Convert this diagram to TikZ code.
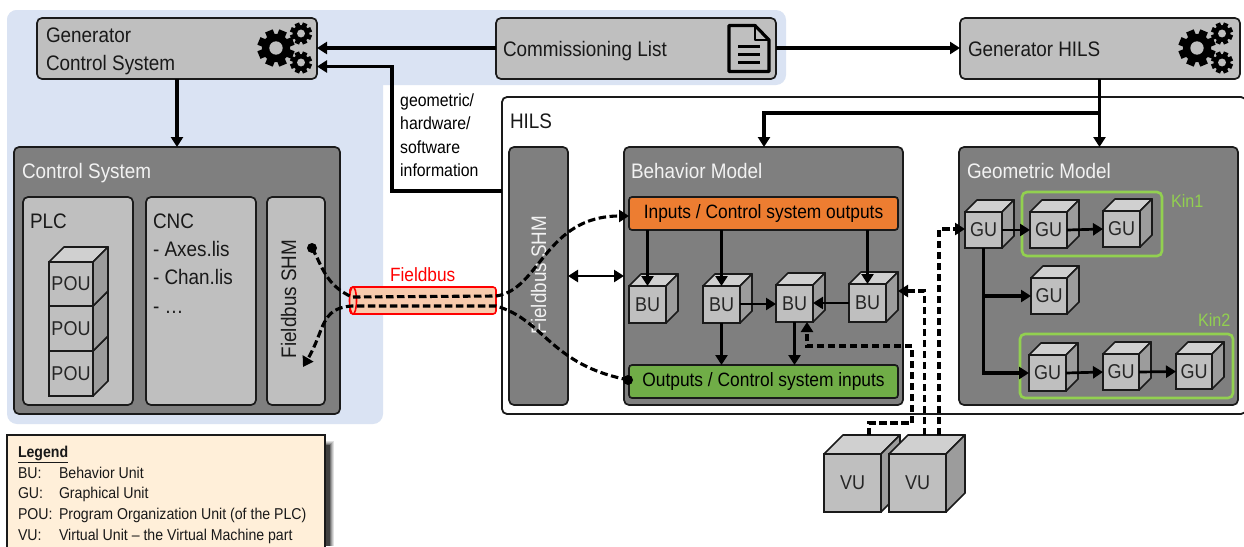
\documentclass[tikz,border=0pt]{standalone}
\usepackage{fontspec}
\setmainfont[FakeStretch=0.9]{Liberation Sans}
\usetikzlibrary{arrows.meta,calc,shapes.geometric}
\definecolor{bgblue}{HTML}{DAE3F3}
\definecolor{boxgrey}{HTML}{BFBFBF}
\definecolor{darkgrey}{HTML}{7F7F7F}
\definecolor{topgrey}{HTML}{D0D0D0}
\definecolor{sidegrey}{HTML}{9C9C9C}
\definecolor{outl}{HTML}{1A1A1A}
\definecolor{orangebox}{HTML}{ED7D31}
\definecolor{greenbox}{HTML}{70AD47}
\definecolor{kin}{HTML}{92D050}
\definecolor{legendfill}{HTML}{FFEFD9}
\definecolor{tube}{HTML}{F8CBAD}
\newcommand{\fs}[1]{\fontsize{#1}{#1}\selectfont}
\tikzset{
  box/.style={draw=outl,line width=1.7pt,rounded corners=5pt,inner sep=0pt,outer sep=0pt,anchor=north west},
  lightbox/.style={box,fill=boxgrey},
  darkbox/.style={box,fill=darkgrey},
  txt/.style={anchor=west,inner sep=0pt,outer sep=0pt,text=black!90,font=\fs{21},text height=14.5pt,text depth=0.5pt},
  whitetxt/.style={txt,text=white!95!black},
  arr/.style={draw=black,line width=3.1pt,-{Triangle[length=10pt,width=12pt]}},
  thinarr/.style={arr,line width=2.7pt},
  dasharr/.style={arr,dash pattern=on 7.5pt off 3.5pt},
  plainface/.style={draw=outl,line width=1.7pt,line join=round},
  cubefront/.style={draw=outl,line width=1.7pt,fill=boxgrey,inner sep=0pt,outer sep=0pt,anchor=north west,font=\fs{20},text=black!85},
  kinbox/.style={draw=kin,line width=2.6pt,rounded corners=5pt,inner sep=0pt,outer sep=0pt,anchor=north west},
  legtxt/.style={txt,font=\fs{15.7},text height=11pt,text depth=0pt},
}
% \cube{name}{x}{y}{w}{h}{depth}{label}
\newcommand{\cube}[7]{%
  \filldraw[plainface,fill=topgrey] (#2,#3) -- ++(#6,-#6) -- ++(#4,0) -- ++(-#6,#6) -- cycle;
  \filldraw[plainface,fill=sidegrey] (#2+#4,#3) -- ++(#6,-#6) -- ++(0,#5) -- ++(-#6,#6) -- cycle;
  \node[cubefront,minimum width=#4pt,minimum height=#5pt] (#1) at (#2,#3) {#7};
}
% \gear{cx}{cy}{R}{bg}
\newcommand{\gear}[4]{%
  \fill[black] (#1,#2) circle ({0.76*#3});
  \foreach \a in {0,45,...,315}{
    \fill[black,shift={(#1,#2)},rotate=\a+22.5] (-0.22*#3,0) rectangle (0.22*#3,#3);
  }
  \fill[#4] (#1,#2) circle ({0.36*#3});
}
\begin{document}
\begin{tikzpicture}[x=1pt,y=-1pt]
\useasboundingbox (0,0) rectangle (1244,546);
\clip (0,0) rectangle (1244,546);
\fill[white] (0,0) rectangle (1244,546);
% blue background
\fill[bgblue,rounded corners=10pt] (7,10) rectangle (786,85);
\fill[bgblue,rounded corners=10pt] (7,10) rectangle (383,424);
% top boxes
\node[lightbox,minimum width=280pt,minimum height=61pt] (gencs) at (37,18) {};
\node[lightbox,minimum width=280pt,minimum height=61pt] (commlist) at (496,18) {};
\node[lightbox,minimum width=280pt,minimum height=61pt] (genhils) at (960,18) {};
\node[txt] (tgen) at (46,35) {Generator};
\node[txt] (tcs) at (46,63.5) {Control System};
\node[txt] (tcomm) at (503,49) {Commissioning List};
\node[txt] (tghils) at (968,49) {Generator HILS};
\gear{276}{48}{18.5}{boxgrey}\gear{301}{33.5}{11}{boxgrey}\gear{301}{62.5}{11}{boxgrey}
\gear{1197}{48}{18.5}{boxgrey}\gear{1222}{33.5}{11}{boxgrey}\gear{1222}{62.5}{11}{boxgrey}
% document icon
\draw[line width=3.2pt,line join=round,fill=boxgrey] (729,25.5) -- (755,25.5) -- (769,40) -- (769,71.5) -- (729,71.5) -- cycle;
\draw[line width=2.6pt,line join=round] (755,25.5) -- (755,40) -- (769,40);
\draw[line width=3pt] (738,46) -- (760,46) (738,54) -- (760,54) (738,62) -- (760,62);
% control system
\node[darkbox,minimum width=326pt,minimum height=267pt] (cs) at (14,147) {};
\node[whitetxt] (tcontrol) at (22,171) {Control System};
\node[lightbox,minimum width=110pt,minimum height=208pt] (plc) at (23,197) {};
\node[lightbox,minimum width=110pt,minimum height=208pt] (cnc) at (146,197) {};
\node[lightbox,minimum width=58pt,minimum height=208pt] (shml) at (267,197) {};
\node[txt] (tplc) at (30,221) {PLC};
\node[txt] (tcnc) at (153,221) {CNC};
\node[txt] (taxes) at (153,249) {- Axes.lis};
\node[txt] (tchan) at (153,277) {- Chan.lis};
\node[txt] (tdots) at (153,306) {- \dots};
\node[txt,rotate=90,anchor=center] (tshml) at (289,299) {Fieldbus SHM};
\cube{pou3}{49}{351}{44}{45}{15}{POU}
\cube{pou2}{49}{306}{44}{45}{15}{POU}
\cube{pou1}{49}{262}{44}{44}{15}{POU}
% HILS
\node[box,fill=white,minimum width=744pt,minimum height=317pt,line width=1.8pt] (hils) at (502,97) {};
\node[txt] (thils) at (510,121) {HILS};
\node[darkbox,minimum width=59pt,minimum height=258pt] (shmm) at (509,147) {};
\node[whitetxt,rotate=90,anchor=center] (tshmm) at (539,275) {Fieldbus SHM};
\node[darkbox,minimum width=279pt,minimum height=258pt] (beh) at (624,147) {};
\node[whitetxt] (tbeh) at (631,171) {Behavior Model};
\node[darkbox,minimum width=279pt,minimum height=258pt] (geo) at (959,147) {};
\node[whitetxt] (tgeo) at (967,171) {Geometric Model};
\node[box,fill=orangebox,rounded corners=3pt,minimum width=269pt,minimum height=33pt,font=\fs{19.3},text height=13.5pt,text depth=4pt] (inp) at (629,197) {Inputs / Control system outputs};
\node[box,fill=greenbox,rounded corners=3pt,minimum width=269pt,minimum height=33pt,font=\fs{19.3},text height=13.5pt,text depth=4pt] (outp) at (629,365) {Outputs / Control system inputs};
\cube{bua}{629}{286}{37}{37}{12}{BU}
\cube{bub}{703}{286}{37}{37}{12}{BU}
\cube{buc}{776}{285}{37}{37}{12}{BU}
\cube{bud}{849}{284}{37}{38}{12}{BU}
% geometric model
\node[kinbox,minimum width=140pt,minimum height=64pt] (kina) at (1022,192) {};
\node[kinbox,minimum width=213pt,minimum height=64pt] (kinb) at (1020,334) {};
\node[txt,text=kin,font=\fs{18}] (tkina) at (1171,200) {Kin1};
\node[txt,text=kin,font=\fs{18}] (tkinb) at (1198,319) {Kin2};
\cube{gua}{965}{212}{37}{36}{12}{GU}
\cube{gub}{1030}{212}{37}{36}{12}{GU}
\cube{guc}{1103}{211}{37}{36}{12}{GU}
\cube{gud}{1031}{278}{36}{36}{12}{GU}
\cube{gue}{1029}{355}{37}{36}{12}{GU}
\cube{guf}{1103}{354}{36}{36}{12}{GU}
\cube{gug}{1176}{354}{36}{35}{12}{GU}
% virtual units
\cube{vua}{824}{454}{57}{58}{19}{VU}
\cube{vub}{889}{454}{57}{58}{19}{VU}
% info text
\node[anchor=north west,inner sep=0pt,align=left,font=\fontsize{17.6}{23.3}\selectfont] (tinfo) at (400,93.5) {geometric/\\hardware/\\software\\information};
% tube
\node[draw=red,line width=1.6pt,fill=tube,rounded corners=3pt,inner sep=0pt,outer sep=0pt,minimum width=146pt,minimum height=27pt,anchor=north west] (fieldbus) at (350,287) {};
\node[draw=red,line width=1.6pt,fill=tube,ellipse,inner sep=0pt,minimum width=7pt,minimum height=27pt] (tubeend) at (353,300.5) {};
\node[txt,text=red,font=\fs{19.2}] (tfieldbus) at (390,274) {Fieldbus};
% legend
\foreach \i/\o in {0/12,1/24,2/38,3/55,4/75}{
  \fill[black!\o] ({334-\i},{441+\i}) rectangle (326,546);
}
\node[draw=outl,line width=1.4pt,fill=legendfill,inner sep=0pt,outer sep=0pt,minimum width=318pt,minimum height=130pt,anchor=north west] (legend) at (7,435) {};
\node[legtxt,font=\bfseries\fs{15.7}] (tleg) at (18,452) {\underline{Legend}};
\node[legtxt] (lbu) at (18,473) {BU:};
\node[legtxt] (lgu) at (18,493) {GU:};
\node[legtxt] (lpou) at (18,514) {POU:};
\node[legtxt] (lvu) at (18,535) {VU:};
\node[legtxt] (dbu) at (59,473) {Behavior Unit};
\node[legtxt] (dgu) at (59,493) {Graphical Unit};
\node[legtxt] (dpou) at (59,514) {Program Organization Unit (of the PLC)};
\node[legtxt] (dvu) at (59,535) {Virtual Unit – the Virtual Machine part};
% connectors: top
\draw[arr] (commlist.west |- 0,48) -- (gencs.east |- 0,48);
\draw[arr] (commlist.east |- 0,48) -- (genhils.west |- 0,48);
\draw[arr] (hils.west |- 0,191) -- (392,191) -- (392,66.5) -- (gencs.east |- 0,66.5);
\draw[arr] (gencs.south -| 177,0) -- (cs.north -| 177,0);
\draw[arr] (genhils.south -| 1099.5,0) -- (geo.north -| 1099.5,0);
\draw[arr] (1099.5,113) -- (764,113) -- (beh.north -| 764,0);
\draw[line width=2.8pt,{Triangle[length=10pt,width=12pt]}-{Triangle[length=10pt,width=12pt]}] (shmm.east |- 0,276) -- (beh.west |- 0,276);
% behavior
\draw[thinarr] (inp.south -| bua) -- (bua.north);
\draw[thinarr] (inp.south -| bub) -- (bub.north);
\draw[thinarr] (inp.south -| bud) -- (bud.north);
\draw[thinarr] (bub.east |- 0,304) -- (buc.west |- 0,304);
\draw[thinarr] (bud.west |- 0,303) -- (buc.east |- 0,303);
\draw[thinarr] (bub.south) -- (outp.north -| bub);
\draw[thinarr] (buc.south) -- (outp.north -| buc);
% geometric
\draw[thinarr] (gua.east) -- (gub.west);
\draw[thinarr] (gub.east) -- (guc.west);
\draw[arr] (983.5,248) -- (983.5,296) -- (gud.west);
\draw[arr] (983.5,296) -- (983.5,373) -- (gue.west);
\draw[thinarr] (gue.east) -- (guf.west);
\draw[thinarr] (guf.east) -- (gug.west);
% dashed
\draw[dasharr] (924.7,435) -- (924.7,291) -- ($(bud.east |- 0,291)+(12,0)$);
\draw[dasharr] (869,435) -- (869,423) -- (912,423) -- (912,346) -- (807,346) -- (buc.south -| 807,0);
\draw[dasharr] (939,435) -- (939,229) -- (gua.west |- 0,229);
% fieldbus lines
\fill (312,248) circle (5);
\draw[dasharr] (312,248) .. controls (322,265) and (325,285) .. (352,297) -- (fieldbus.east |- 0,296) .. controls (540,290) and (545,216) .. (inp.west |- 0,216);
\fill (628,380) circle (5);
\draw[dasharr] (outp.west |- 0,380) .. controls (550,365) and (545,320) .. (fieldbus.east |- 0,306) -- (352,306) .. controls (320,308) and (325,330) .. (303,367);
\end{tikzpicture}
\end{document}
